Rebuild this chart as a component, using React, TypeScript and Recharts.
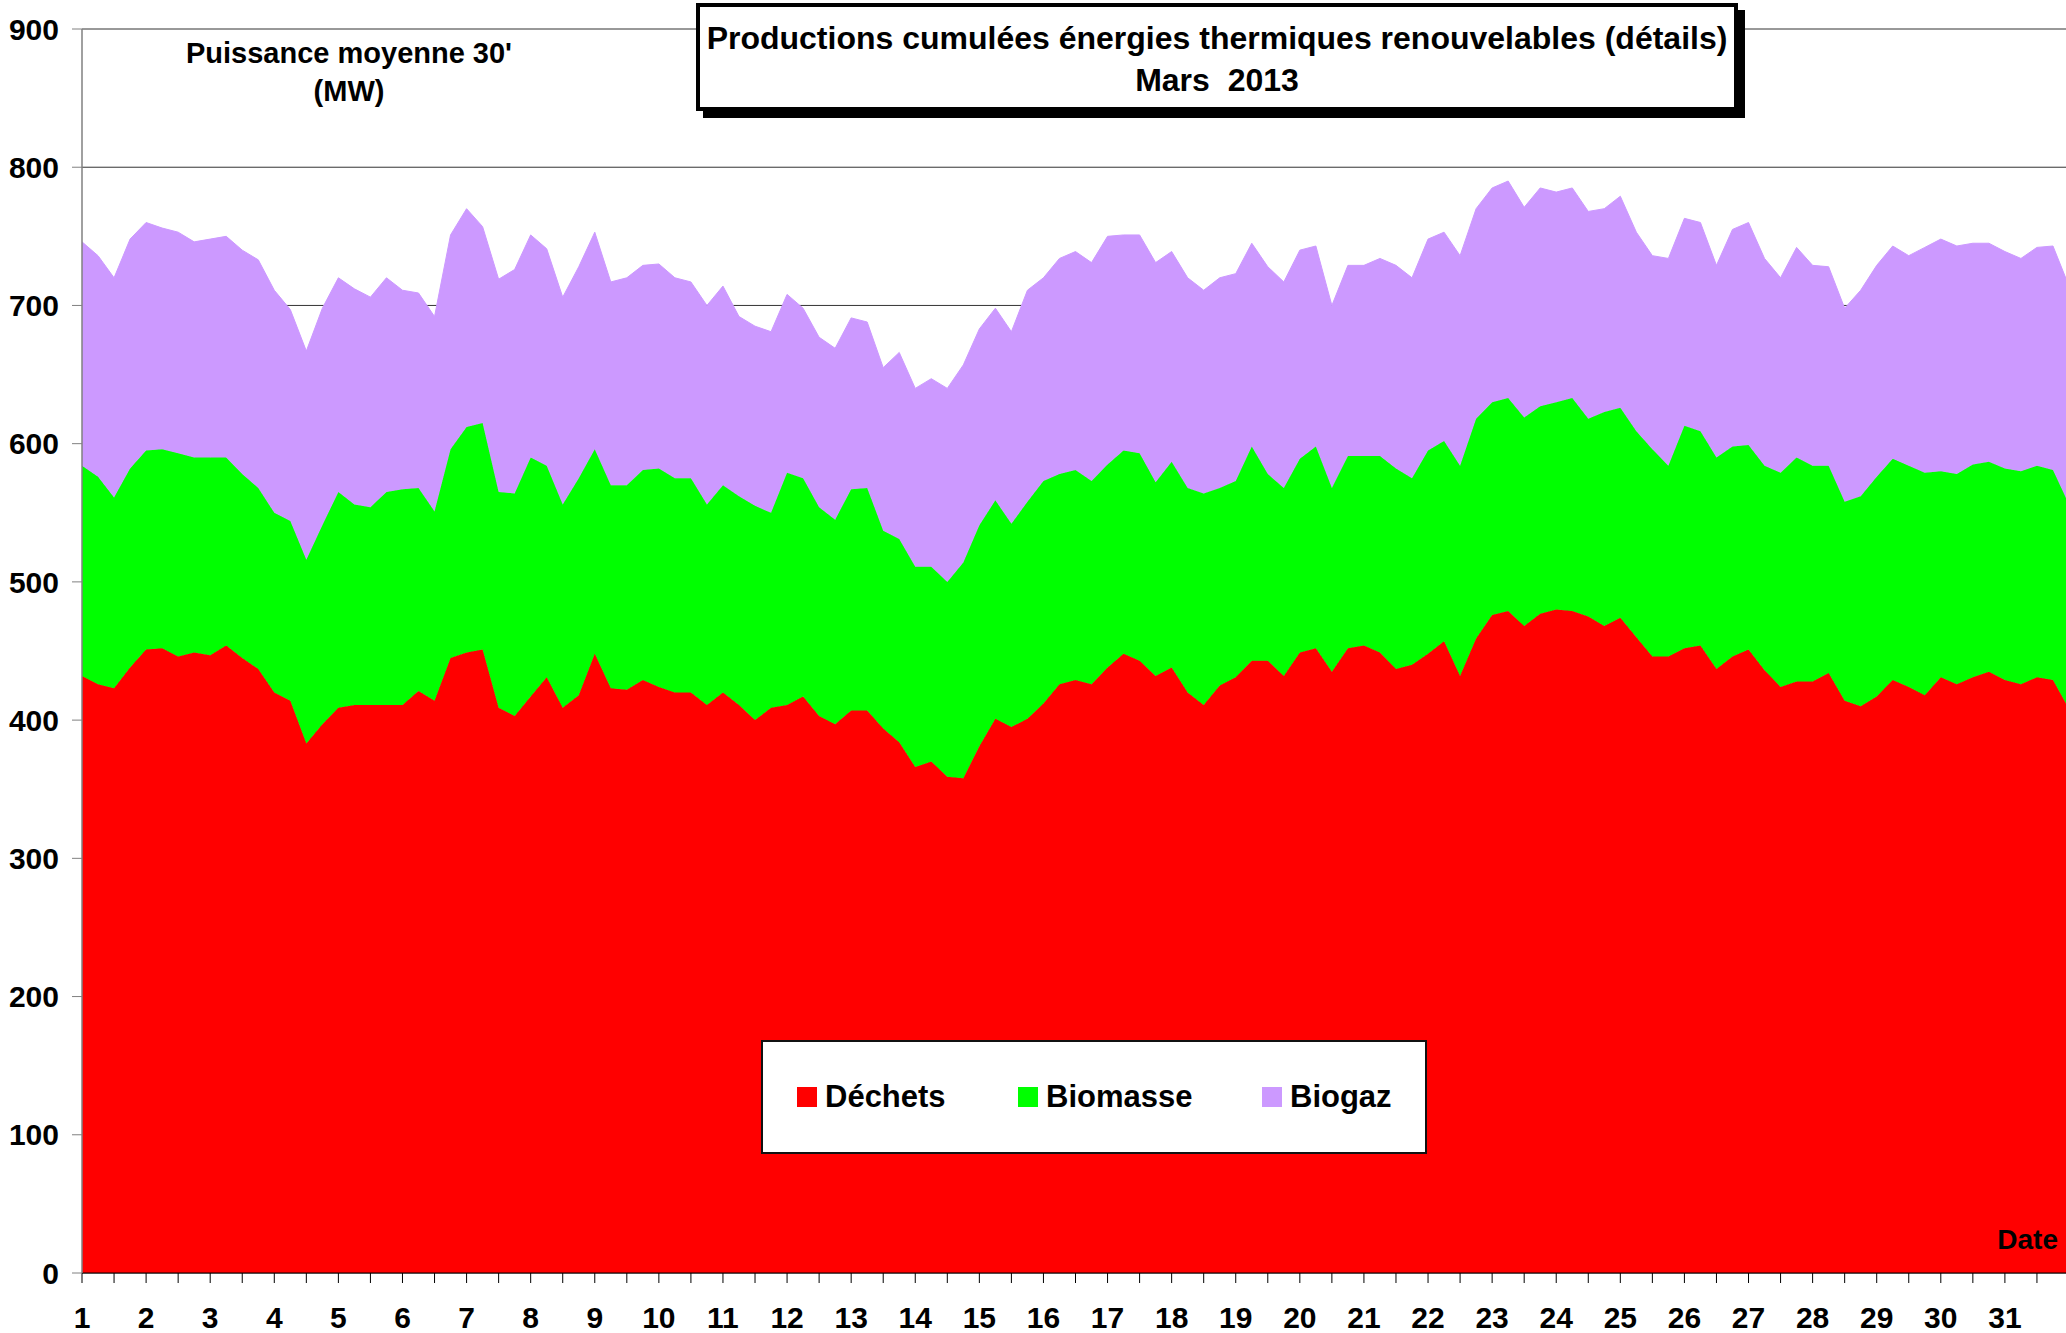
import { AreaChart, Area, XAxis, YAxis, CartesianGrid, Legend } from 'recharts'

// Half-hour averages read off the picture, sampled every 6 hours (4 per day),
// from 1 March 00:00 to the end of 31 March.
const FIRST_DAY = 1
const SAMPLES_PER_DAY = 4

// Déchets (MW)
const dechets = [
  432, 426, 423, 438, 451, 452, 446, 449, 447, 454, 445, 437, 420, 414, 383, 397,
  409, 411, 411, 411, 411, 421, 414, 445, 449, 451, 409, 403, 417, 431, 409, 418,
  448, 423, 422, 429, 424, 420, 420, 411, 420, 411, 400, 409, 411, 417, 403, 397,
  407, 407, 394, 384, 366, 370, 359, 358, 381, 401, 395, 401, 412, 426,
  429, 426, 438, 448, 443, 432, 438, 420, 411, 425, 431, 443, 443, 432, 449, 452,
  435, 452, 454, 449, 437, 440, 448, 457, 432, 459, 476, 479, 468, 477, 480,
  479, 475, 468, 474, 460, 446, 446, 452, 454, 437, 446, 451, 436, 424, 428, 428,
  434, 414, 410, 417, 429, 424, 418, 431, 426, 431, 435, 429, 426, 431, 429, 408,
]

// top of the Biomasse layer (Déchets + Biomasse)
const cumulBiomasse = [
  584, 576, 561, 582, 595, 596, 593, 590, 590, 590, 578, 568, 550, 544, 516, 541,
  565, 556, 554, 565, 567, 568, 551, 596, 612, 615, 565, 564, 590, 584, 556, 575,
  596, 570, 570, 581, 582, 575, 575, 556, 570, 562, 555, 550, 579, 575, 554, 545,
  567, 568, 537, 531, 511, 511, 500, 514, 541, 559, 542, 558, 573, 578,
  581, 573, 585, 595, 593, 572, 587, 568, 564, 568, 573, 598, 578, 568, 589, 598,
  568, 591, 591, 591, 582, 575, 595, 602, 584, 618, 630, 633, 619, 627, 630,
  633, 618, 623, 626, 609, 596, 584, 613, 609, 590, 598, 599, 584, 579, 590, 584,
  584, 558, 562, 576, 589, 584, 579, 580, 578, 585, 587, 582, 580, 584, 581, 556,
]

// top of the Biogaz layer (total)
const cumulTotal = [
  746, 736, 720, 748, 760, 756, 753, 746, 748, 750, 740, 733, 711, 697, 667, 698,
  720, 712, 706, 720, 711, 709, 692, 751, 770, 757, 719, 726, 751, 741, 706, 728,
  753, 717, 720, 729, 730, 720, 717, 700, 714, 692, 685, 681, 708, 698, 677, 669,
  691, 688, 655, 666, 640, 647, 640, 657, 683, 698, 681, 711, 720, 734,
  739, 731, 750, 751, 751, 731, 739, 720, 711, 720, 723, 745, 728, 717, 740, 743,
  700, 729, 729, 734, 729, 720, 748, 753, 736, 770, 785, 790, 771, 785, 782,
  785, 768, 770, 779, 753, 736, 734, 763, 760, 729, 755, 760, 734, 720, 742, 729,
  728, 698, 711, 729, 743, 736, 742, 748, 743, 745, 745, 739, 734, 742, 743, 714,
]

const yTicks = [0, 100, 200, 300, 400, 500, 600, 700, 800, 900]
// a tick every 12 hours, a label on each day
const xTicks = Array.from({ length: 62 }, (_, i) => FIRST_DAY + i / 2)

const series = [
  { key: 'dechets', name: 'Déchets', color: '#FF0000' },
  { key: 'biomasse', name: 'Biomasse', color: '#00FF00' },
  { key: 'biogaz', name: 'Biogaz', color: '#CC99FF' },
]

const data = dechets.map((d, i) => ({
  t: FIRST_DAY + i / SAMPLES_PER_DAY,
  dechets: d,
  biomasse: cumulBiomasse[i] - d,
  biogaz: cumulTotal[i] - cumulBiomasse[i],
}))

const FONT = '"Liberation Sans", Arial, Helvetica, sans-serif'
const LEGEND_ITEM_X = [34, 255, 499]

const renderLegend = (props: any) => {
  const payload = props.payload || []
  return (
    <div
      style={{
        position: 'relative',
        width: 666,
        height: 114,
        boxSizing: 'border-box',
        border: '2px solid #111',
        background: '#fff',
        fontFamily: FONT,
      }}
    >
      {series.map((s, i) => {
        const entry = payload.find((p: any) => p.dataKey === s.key)
        return (
          <div
            key={s.key}
            style={{
              position: 'absolute',
              left: LEGEND_ITEM_X[i],
              top: 0,
              height: '100%',
              display: 'flex',
              alignItems: 'center',
            }}
          >
            <span style={{ display: 'inline-block', width: 20, height: 20, background: s.color, marginRight: 8 }} />
            <span style={{ fontSize: 31, fontWeight: 'bold', color: '#000', lineHeight: '36px' }}>
              {entry ? entry.value : s.name}
            </span>
          </div>
        )
      })}
    </div>
  )
}

export default function App() {
  return (
    <div
      style={{
        position: 'absolute',
        left: 0,
        top: 0,
        width: 2066,
        height: 1333,
        overflow: 'hidden',
        background: '#fff',
        fontFamily: FONT,
      }}
    >
      <AreaChart width={2069} height={1333} data={data} margin={{ top: 29, right: 0, bottom: 0, left: 0 }}>
        <CartesianGrid vertical={false} stroke="#333" strokeWidth={1} />
        <XAxis
          dataKey="t"
          type="number"
          domain={[1, 32]}
          ticks={xTicks}
          interval={0}
          tickFormatter={(v: number) => (Number.isInteger(v) ? String(v) : '')}
          height={60}
          tickSize={10}
          tickMargin={24}
          axisLine={{ stroke: '#000', strokeWidth: 1 }}
          tickLine={{ stroke: '#000', strokeWidth: 1 }}
          tick={{ fontSize: 30, fontWeight: 'bold', fill: '#000' }}
        />
        <YAxis
          type="number"
          domain={[0, 900]}
          ticks={yTicks}
          interval={0}
          width={82}
          tickSize={10}
          tickMargin={13}
          axisLine={{ stroke: '#808080', strokeWidth: 1.5 }}
          tickLine={{ stroke: '#808080', strokeWidth: 1 }}
          tick={{ fontSize: 30, fontWeight: 'bold', fill: '#000' }}
        />
        {series.map((s) => (
          <Area
            key={s.key}
            type="linear"
            dataKey={s.key}
            name={s.name}
            stackId="1"
            fill={s.color}
            fillOpacity={1}
            stroke={s.color}
            strokeWidth={1}
            dot={false}
            activeDot={false}
            isAnimationActive={false}
          />
        ))}
        <Legend
          layout="horizontal"
          verticalAlign="middle"
          align="center"
          content={renderLegend}
          wrapperStyle={{ position: 'absolute', left: 761, top: 1040, width: 666, height: 114 }}
        />
      </AreaChart>

      {/* title box with its shadow */}
      <div
        style={{
          position: 'absolute',
          left: 696,
          top: 3,
          width: 1042,
          height: 108,
          boxSizing: 'border-box',
          border: '4px solid #000',
          background: '#fff',
          boxShadow: '7px 7px 0 #000',
          textAlign: 'center',
          fontSize: 32,
          fontWeight: 'bold',
          lineHeight: '42px',
          paddingTop: 10,
          color: '#000',
        }}
      >
        <div>Productions cumulées énergies thermiques renouvelables (détails)</div>
        <div style={{ whiteSpace: 'pre' }}>Mars  2013</div>
      </div>

      <div
        style={{
          position: 'absolute',
          left: 149,
          top: 34,
          width: 400,
          textAlign: 'center',
          fontSize: 29,
          fontWeight: 'bold',
          lineHeight: '38px',
          color: '#000',
        }}
      >
        <div>Puissance moyenne 30'</div>
        <div>(MW)</div>
      </div>

      <div
        style={{
          position: 'absolute',
          left: 1938,
          top: 1223,
          width: 120,
          textAlign: 'right',
          fontSize: 28,
          fontWeight: 'bold',
          lineHeight: '34px',
          color: '#000',
        }}
      >
        Date
      </div>
    </div>
  )
}
